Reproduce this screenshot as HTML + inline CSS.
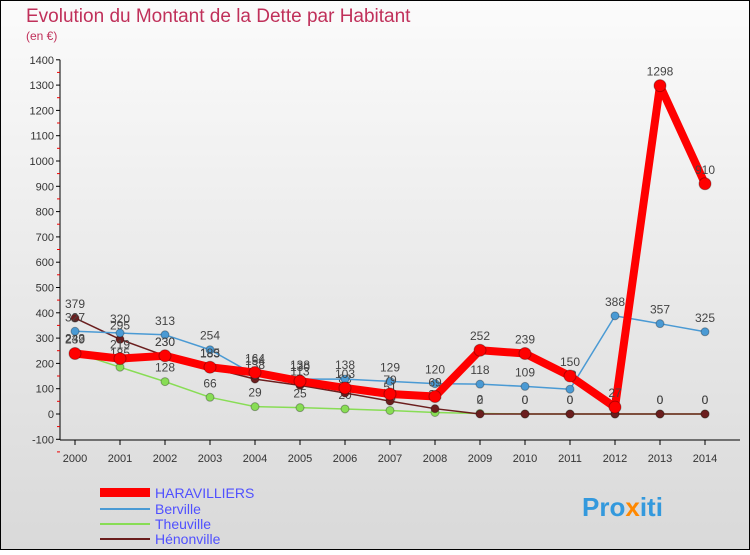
<!DOCTYPE html>
<html><head><meta charset="utf-8"><style>
body{margin:0;width:750px;height:550px;overflow:hidden;font-family:"Liberation Sans",sans-serif}
svg text{font-family:"Liberation Sans",sans-serif}
</style></head><body>
<svg id="c" width="750" height="550" xmlns="http://www.w3.org/2000/svg">
<defs><linearGradient id="bg" x1="0" y1="0" x2="0" y2="1"><stop offset="0" stop-color="#fbfbfb"/><stop offset="1" stop-color="#d9d9d9"/></linearGradient></defs>
<rect x="0.5" y="0.5" width="749" height="549" fill="url(#bg)" stroke="#000"/>
<text x="26" y="22" font-size="19" fill="#c0305a">Evolution du Montant de la Dette par Habitant</text>
<text x="26" y="40" font-size="12" fill="#c0305a">(en €)</text>
<g id="axes"></g><g id="series"></g>
<g>
<rect x="100" y="488" width="50" height="9" fill="#ff0000"/>
<text x="155" y="498" font-size="14" fill="#5050ff">HARAVILLIERS</text>
<rect x="100" y="508" width="50" height="2" fill="#4a9ad4"/>
<text x="155" y="514" font-size="14" fill="#5050ff">Berville</text>
<rect x="100" y="523" width="50" height="2" fill="#88dd55"/>
<text x="155" y="529" font-size="14" fill="#5050ff">Theuville</text>
<rect x="100" y="538" width="50" height="2" fill="#6b1e1e"/>
<text x="155" y="544" font-size="14" fill="#5050ff">Hénonville</text>
</g>
<text x="582" y="516" font-size="26" font-weight="bold" fill="#3399dd">Pro<tspan fill="#ff8800">x</tspan>iti</text>
</svg>
<script>
const years=[2000,2001,2002,2003,2004,2005,2006,2007,2008,2009,2010,2011,2012,2013,2014];
const yTicks=[-100,0,100,200,300,400,500,600,700,800,900,1000,1100,1200,1300,1400];
const harav=[239,219,230,185,164,130,103,79,69,252,239,150,27,1298,910];
const berville=[327,320,313,254,154,138,138,129,120,118,109,98,388,357,325];
const theuville=[243,185,128,66,29,25,20,14,6,2,0,0,0,0,0];
const henonville=[379,295,230,183,138,113,83,51,21,0,0,0,0,0,0];
const NS="http://www.w3.org/2000/svg";
const xS=i=>75+i*45, yS=v=>414-v*0.253;
const ax=document.getElementById('axes'), se=document.getElementById('series');
function mk(t,a,p){const e=document.createElementNS(NS,t);for(const k in a)e.setAttribute(k,a[k]);p.appendChild(e);return e;}
let l=mk('line',{x1:60,y1:yS(1400),x2:60,y2:440,stroke:'#000'},ax);


l=mk('line',{x1:60,y1:440,x2:740,y2:440,stroke:'#000'},ax);


yTicks.forEach(v=>{const y=yS(v);mk('line',{x1:56,y1:y,x2:60,y2:y,stroke:'#000'},ax);
mk('line',{x1:57,y1:y+12.6,x2:60,y2:y+12.6,stroke:'#e00'},ax);
const t=mk('text',{x:54,y:y+4,'font-size':11,fill:'#333','text-anchor':'end'},ax);t.textContent=v;

});
years.forEach((yr,i)=>{const x=xS(i);mk('line',{x1:x,y1:440,x2:x,y2:445,stroke:'#000'},ax);
const t=mk('text',{x:x,y:462,'font-size':11,fill:'#333','text-anchor':'middle'},ax);t.textContent=yr;

});
function series(d,color,w,r,name,labels){
const g=mk('g',{},se);


mk('polyline',{points:d.map((v,i)=>xS(i)+','+yS(v)).join(' '),fill:'none',stroke:color,'stroke-width':w,'stroke-linejoin':'round'},g);
d.forEach((v,i)=>{const c=mk('circle',{cx:xS(i),cy:yS(v),r:r,fill:color,stroke:'rgba(0,0,0,0.3)'},g);


if(labels){const t=mk('text',{x:xS(i),y:yS(v)-10,'font-size':12,fill:'#444','text-anchor':'middle'},g);t.textContent=v;

}});}
series(theuville,'#88dd55',1.5,4,'theuville',true);
series(henonville,'#6b1e1e',1.5,4,'henonville',true);
series(berville,'#4a9ad4',1.5,4,'berville',true);
series(harav,'#ff0000',8,6,'haravilliers',true);
</script>
</body></html>
